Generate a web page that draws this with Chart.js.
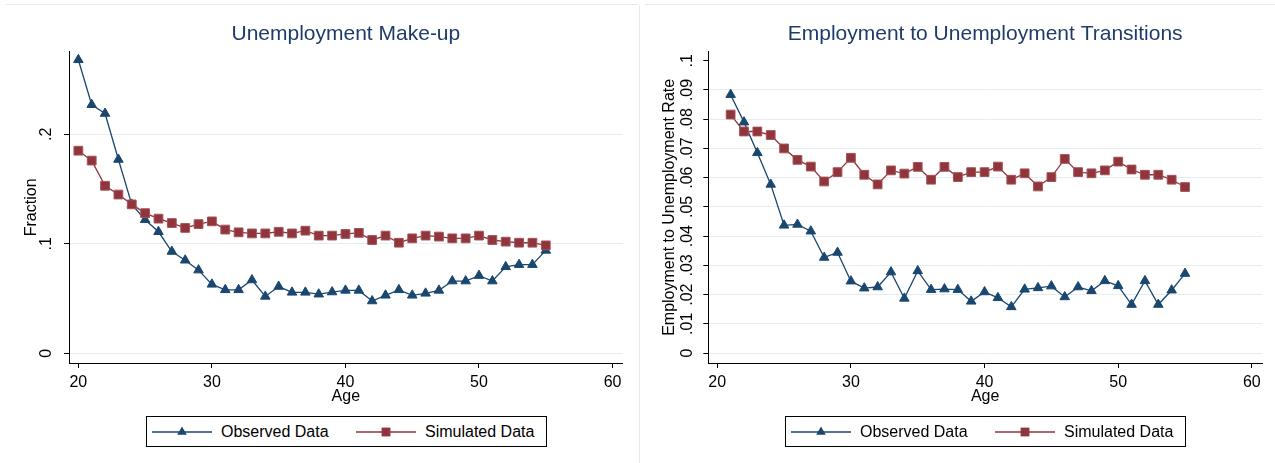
<!DOCTYPE html>
<html>
<head>
<meta charset="utf-8">
<script src="https://cdn.jsdelivr.net/npm/chart.js@4.4.1/dist/chart.umd.min.js"></script>
<style>
    html, body { margin: 0; padding: 0; background: #fff; }
    body { width: 1275px; height: 463px; position: relative; overflow: hidden;
           font-family: "Liberation Sans", Arial, sans-serif; }
    canvas { position: absolute; top: 0; }
    #left-chart { left: 0; }
    #right-chart { left: 640px; }
    .topline { position: absolute; top: 4px; height: 1px; background: #e3ebee; }
    .divider { position: absolute; left: 639px; top: 5px; width: 1px; height: 458px; background: #e3ebee; }
    .legend { position: absolute; top: 416px; width: 401px; height: 31px; box-sizing: border-box;
              border: 1px solid #000; background: #fff; }
    .legend-item { position: absolute; top: 0; height: 29px; display: flex; align-items: center;
                   font-size: 16px; color: #000; white-space: nowrap; }
    .legend-item svg { margin-right: 9px; }
</style>
</head>
<body>
<div class="topline" style="left:6px; width:632px;"></div>
<div class="topline" style="left:645px; width:630px;"></div>
<div class="divider"></div>

<canvas id="left-chart" width="638" height="463"></canvas>
<canvas id="right-chart" width="635" height="463"></canvas>

<div class="legend" id="left-legend" style="left:146px;"></div>
<div class="legend" id="right-legend" style="left:785px;"></div>

<script>
/**
 * Data
 */
const leftAges = [20, 21, 22, 23, 24, 25, 26, 27, 28, 29, 30, 31, 32, 33, 34, 35, 36, 37,
                  38, 39, 40, 41, 42, 43, 44, 45, 46, 47, 48, 49, 50, 51, 52, 53, 54, 55];
const leftObserved = [0.268, 0.227, 0.219, 0.177, 0.136, 0.122, 0.111, 0.093, 0.085, 0.076,
                      0.063, 0.058, 0.058, 0.067, 0.052, 0.061, 0.0557, 0.0557, 0.054, 0.056,
                      0.0575, 0.0575, 0.0478, 0.053, 0.058, 0.053, 0.0548, 0.0575, 0.066, 0.066,
                      0.071, 0.066, 0.079, 0.081, 0.081, 0.094];
const leftSimulated = [0.185, 0.176, 0.153, 0.145, 0.136, 0.128, 0.123, 0.119, 0.1145, 0.118,
                       0.1205, 0.113, 0.1105, 0.1095, 0.1095, 0.111, 0.1095, 0.112, 0.1075, 0.1075,
                       0.109, 0.110, 0.1035, 0.1075, 0.101, 0.105, 0.1075, 0.1066, 0.105, 0.105,
                       0.1075, 0.1035, 0.102, 0.101, 0.101, 0.0986];

const rightAges = [21, 22, 23, 24, 25, 26, 27, 28, 29, 30, 31, 32, 33, 34, 35, 36, 37, 38,
                   39, 40, 41, 42, 43, 44, 45, 46, 47, 48, 49, 50, 51, 52, 53, 54, 55];
const rightObserved = [0.0884, 0.079, 0.0685, 0.0577, 0.0437, 0.044, 0.0417, 0.0327, 0.0344, 0.0246,
                       0.0222, 0.0226, 0.0277, 0.0187, 0.0281, 0.0217, 0.0219, 0.0217, 0.0177, 0.0209,
                       0.0189, 0.0158, 0.0218, 0.0223, 0.0229, 0.0192, 0.0226, 0.0213, 0.0247, 0.023,
                       0.0166, 0.0247, 0.0166, 0.0215, 0.0272];
const rightSimulated = [0.0816, 0.0758, 0.0758, 0.0746, 0.070, 0.0661, 0.0638, 0.0587, 0.0619, 0.0668,
                        0.061, 0.0577, 0.0625, 0.0614, 0.0637, 0.0593, 0.0637, 0.0602, 0.0619, 0.0619,
                        0.0638, 0.0593, 0.0615, 0.057, 0.0602, 0.0664, 0.0619, 0.0615, 0.0625, 0.0655,
                        0.0628, 0.061, 0.061, 0.0593, 0.0568];

const ageTicks = [20, 30, 40, 50, 60];
const leftYTicks = [0, 0.1, 0.2];
const leftYTickLabels = ['0', '.1', '.2'];
const rightYTicks = [0, 0.01, 0.02, 0.03, 0.04, 0.05, 0.06, 0.07, 0.08, 0.09, 0.1];
const rightYTickLabels = ['0', '.01', '.02', '.03', '.04', '.05', '.06', '.07', '.08', '.09', '.1'];

const seriesNames = ['Observed Data', 'Simulated Data'];
const chartTitles = ['Unemployment Make-up', 'Employment to Unemployment Transitions'];
const yAxisTitles = ['Fraction', 'Employment to Unemployment Rate'];
const xAxisTitle = 'Age';

// Stata s2color look
const NAVY = '#1a476f';
const MAROON = '#90353b';
const TITLE_COLOR = '#1f3b6a';
const GRID_COLOR = '#e6edf0';
const FONT = '"Liberation Sans", Arial, sans-serif';

let charts = {};

function toPoints(ages, values) {
    return ages.map((a, i) => ({ x: a, y: values[i] }));
}

/**
 * Build one panel
 */
function makePanel(canvasId, cfg) {
    const ctx = document.getElementById(canvasId);
    return new Chart(ctx, {
        type: 'line',
        data: {
            datasets: [{
                label: seriesNames[0],
                data: toPoints(cfg.ages, cfg.observed),
                borderColor: NAVY,
                backgroundColor: NAVY,
                borderWidth: 1.3,
                pointStyle: 'triangle',
                pointRadius: 5.5,
                pointBorderWidth: 1,
                pointBorderColor: NAVY,
                pointBackgroundColor: NAVY,
                tension: 0,
                order: 2
            }, {
                label: seriesNames[1],
                data: toPoints(cfg.ages, cfg.simulated),
                borderColor: MAROON,
                backgroundColor: MAROON,
                borderWidth: 1.3,
                pointStyle: 'rect',
                pointRadius: 6.2,
                pointBorderWidth: 1,
                pointBorderColor: '#a4545a',
                pointBackgroundColor: MAROON,
                tension: 0,
                order: 1
            }]
        },
        options: {
            responsive: false,
            animation: false,
            devicePixelRatio: 1,
            layout: {
                padding: { left: 0, right: cfg.padRight, top: 0, bottom: 50 }
            },
            plugins: {
                legend: { display: false },
                tooltip: { enabled: false },
                title: {
                    display: true,
                    text: cfg.title,
                    fullSize: false,
                    color: TITLE_COLOR,
                    font: { family: FONT, size: 21, weight: 'normal', lineHeight: 1.2 },
                    padding: { top: 21.4, bottom: 5.1 }
                }
            },
            scales: {
                x: {
                    type: 'linear',
                    min: cfg.xMin,
                    max: cfg.xMax,
                    afterBuildTicks: s => { s.ticks = ageTicks.map(v => ({ value: v })); },
                    afterFit: s => { s.height = 50; },
                    grid: { drawOnChartArea: false, drawTicks: true, tickLength: 5, tickColor: '#000', tickWidth: 1 },
                    border: { display: true, color: '#000', width: 1 },
                    ticks: {
                        color: '#000',
                        font: { family: FONT, size: 16 },
                        padding: 5,
                        autoSkip: false,
                        maxRotation: 0,
                        callback: v => String(v)
                    },
                    title: {
                        display: true,
                        text: xAxisTitle,
                        color: '#000',
                        font: { family: FONT, size: 16 },
                        padding: { top: 0, bottom: 6.4 }
                    }
                },
                y: {
                    type: 'linear',
                    min: cfg.yMin,
                    max: cfg.yMax,
                    afterBuildTicks: s => { s.ticks = cfg.yTicks.map(v => ({ value: v })); },
                    afterFit: s => { s.width = cfg.yAxisWidth; },
                    grid: {
                        color: c => (c.tick && cfg.noGrid.includes(c.tick.value)) ? 'rgba(0,0,0,0)' : GRID_COLOR,
                        lineWidth: 1,
                        drawTicks: true,
                        tickLength: 5,
                        tickColor: '#000',
                        tickWidth: 1
                    },
                    border: { display: true, color: '#000', width: 1 },
                    ticks: {
                        color: '#000',
                        font: { family: FONT, size: 16 },
                        minRotation: 90,
                        maxRotation: 90,
                        crossAlign: 'center',
                        padding: cfg.yTickPad,
                        autoSkip: false,
                        callback: v => cfg.yTickLabels[cfg.yTicks.indexOf(v)]
                    },
                    title: {
                        display: true,
                        text: cfg.yTitle,
                        color: '#000',
                        font: { family: FONT, size: 16 },
                        padding: { top: cfg.yTitlePad, bottom: 0 }
                    }
                }
            }
        }
    });
}

/**
 * Stata-style legend box (line with marker)
 */
function symbolSvg(color, shape) {
    let mark;
    if (shape === 'triangle') {
        mark = '<polygon points="30,1.5 34.8,9.8 25.2,9.8" fill="' + color + '"/>';
    } else {
        mark = '<rect x="25.6" y="2.6" width="8.8" height="8.8" fill="' + color + '"/>';
    }
    return '<svg width="60" height="14" viewBox="0 0 60 14">' +
        '<line x1="0" y1="7" x2="60" y2="7" stroke="' + color + '" stroke-width="1.3"/>' + mark + '</svg>';
}

function buildLegend(id) {
    const box = document.getElementById(id);
    box.innerHTML =
        '<div class="legend-item" style="left:5px;">' + symbolSvg(NAVY, 'triangle') + '<span>' + seriesNames[0] + '</span></div>' +
        '<div class="legend-item" style="left:209px;">' + symbolSvg(MAROON, 'rect') + '<span>' + seriesNames[1] + '</span></div>';
}

function initCharts() {
    if (typeof Chart === 'undefined') {
        console.warn('Chart.js not loaded');
        return;
    }
    charts.left = makePanel('left-chart', {
        title: chartTitles[0],
        yTitle: yAxisTitles[0],
        ages: leftAges,
        observed: leftObserved,
        simulated: leftSimulated,
        yTicks: leftYTicks,
        yTickLabels: leftYTickLabels,
        noGrid: [],
        xMin: 19.30, xMax: 60.76,
        yMin: -0.0088, yMax: 0.2754,
        padRight: 15.3,
        yAxisWidth: 69,
        yTickPad: 10.3,
        yTitlePad: 22.4
    });
    charts.right = makePanel('right-chart', {
        title: chartTitles[1],
        yTitle: yAxisTitles[1],
        ages: rightAges,
        observed: rightObserved,
        simulated: rightSimulated,
        yTicks: rightYTicks,
        yTickLabels: rightYTickLabels,
        noGrid: [0.1],
        xMin: 19.33, xMax: 60.76,
        yMin: -0.0034, yMax: 0.1031,
        padRight: 13,
        yAxisWidth: 68.3,
        yTickPad: 4.7,
        yTitlePad: 20.4
    });
    buildLegend('left-legend');
    buildLegend('right-legend');
}

initCharts();
</script>
</body>
</html>
